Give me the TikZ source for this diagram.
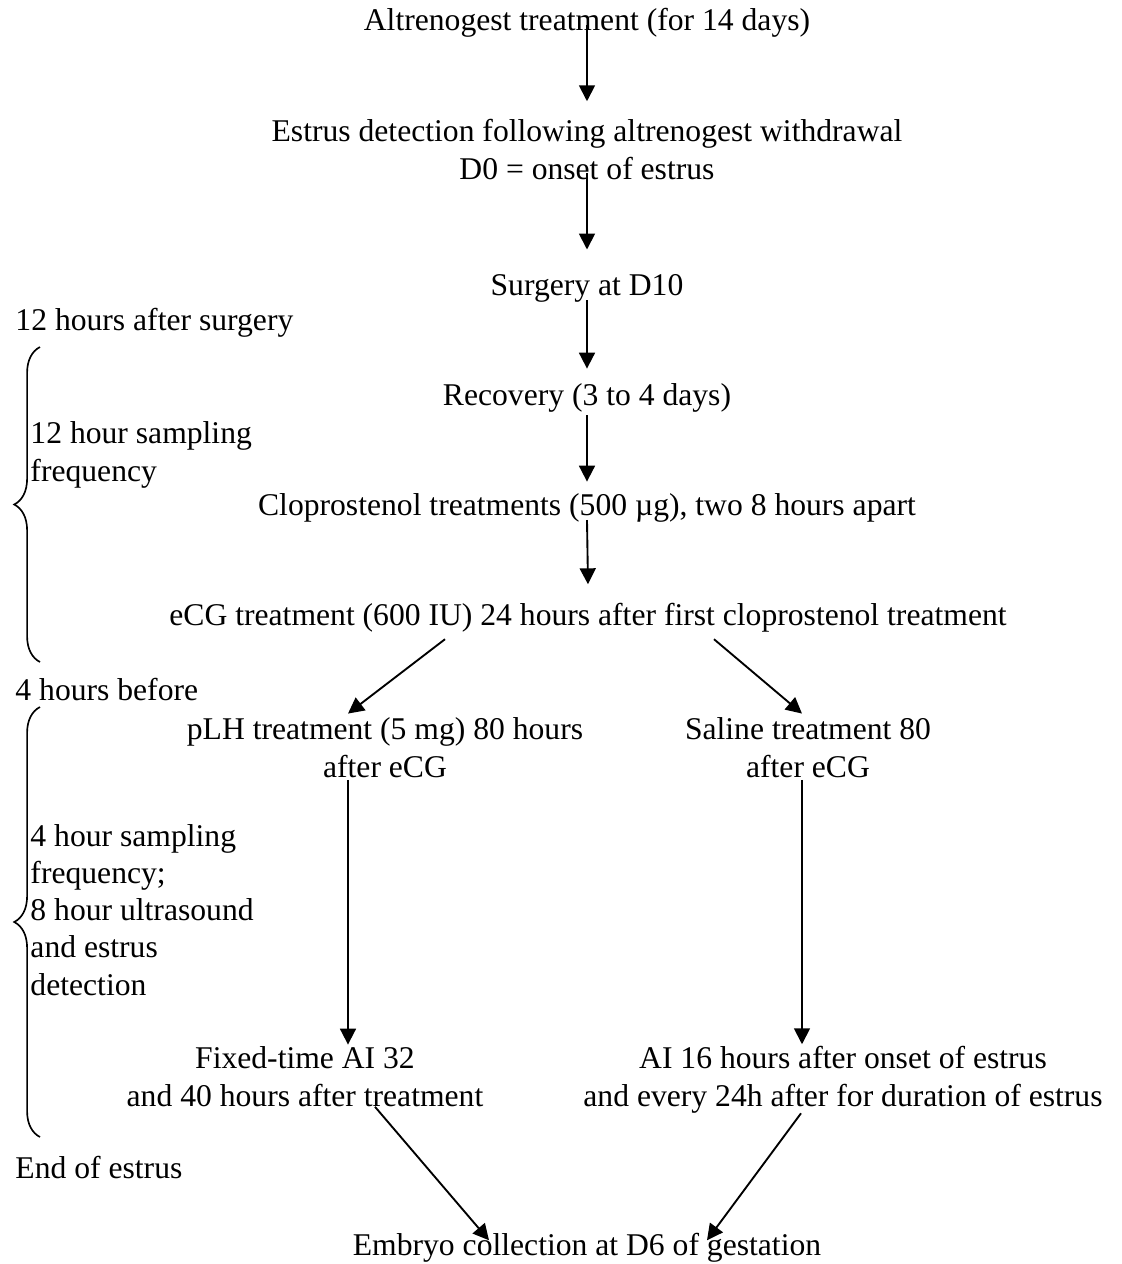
\documentclass[tikz,border=0pt]{standalone}
\usepackage{fontspec}
\setmainfont{Liberation Serif}
\usetikzlibrary{arrows.meta,calc,decorations.pathreplacing}

\begin{document}
\begin{tikzpicture}[
  x=0.015cm, y=-0.015cm,
  >={Triangle[width=6.8pt,length=6.8pt]},
  txt/.style={inner sep=0pt, align=center, anchor=base,
              font=\fontsize{13.5}{15.8}\selectfont},
  side/.style={txt, align=left, anchor=base west},
  flow/.style={->, line width=0.8pt},
  brc/.style={decorate, decoration={brace, amplitude=11pt}, line width=0.7pt}
]
\useasboundingbox (0,0) rectangle (1121,1264);

%% ---- main chain (base = last line) ----
\node[txt] (alt) at (587,30) {Altrenogest treatment (for 14 days)};
\node[txt] (est) at (587,179) {Estrus detection following altrenogest withdrawal\\
  D0 = onset of estrus};
\node[txt] (surg) at (587,295) {Surgery at D10};
\node[txt] (rec) at (587,405) {Recovery (3 to 4 days)};
\node[txt] (clop) at (587,515) {Cloprostenol treatments (500 µg), two 8 hours apart};
\node[txt] (ecg) at (588,625) {eCG treatment (600 IU) 24 hours after first cloprostenol treatment};

%% ---- two branches ----
\node[txt] (plh) at (385,777) {pLH treatment (5 mg) 80 hours\\ after eCG};
\node[txt] (sal) at (808,777) {Saline treatment 80\\ after eCG};
\node[txt] (fixed) at (305,1106) {Fixed-time AI 32\\ and 40 hours after treatment};
\node[txt] (ai) at (843,1106) {AI 16 hours after onset of estrus\\
  and every 24h after for duration of estrus};
\node[txt] (emb) at (587,1255) {Embryo collection at D6 of gestation};

%% ---- sampling notes on the left ----
\node[side] (s12) at (15,330) {12 hours after surgery};
\node[side] (f12) at (30,481) {12 hour sampling\\ frequency};
\node[side] (s4) at (15,700) {4 hours before};
\node[side] (f4) at (30,995) {4 hour sampling\\ frequency;\\ 8 hour ultrasound\\
  and estrus\\ detection};
\node[side] (end) at (15,1178) {End of estrus};

\draw[brc] (40,662) -- (40,347);
\draw[brc] (40,1137) -- (40,707);

%% ---- arrows ----
\draw[flow] ($(alt.base)+(0,-5)$) -- ($(est.north)+(0,-18)$);
\draw[flow] ($(est.south)+(0,-7)$) -- ($(surg.north)+(0,-24)$);
\draw[flow] ($(surg.base)+(0,5)$) -- ($(rec.north)+(0,-14)$);
\draw[flow] ($(rec.base)+(0,10)$) -- ($(clop.north)+(0,-11)$);
\draw[flow] ($(clop.base)+(0,5)$) -- ($(ecg.north)+(0,-18)$);

\draw[flow] ($(ecg.south)+(-143,7)$) -- ($(plh.north)+(-37,-4)$);
\draw[flow] ($(ecg.south)+(126,7)$) -- ($(sal.north)+(-6,-4)$);

\draw[flow] ($(plh.south)+(-37,2)$) -- ($(fixed.north)+(43,-2)$);
\draw[flow] ($(sal.south)+(-6,2)$) -- ($(ai.north)+(-41,-2)$);

\draw[flow] ($(fixed.south)+(70,0)$) -- ($(emb.north)+(-98,8)$);
\draw[flow] ($(ai.south)+(-42,0)$) -- ($(emb.north)+(120,8)$);

\end{tikzpicture}
\end{document}
